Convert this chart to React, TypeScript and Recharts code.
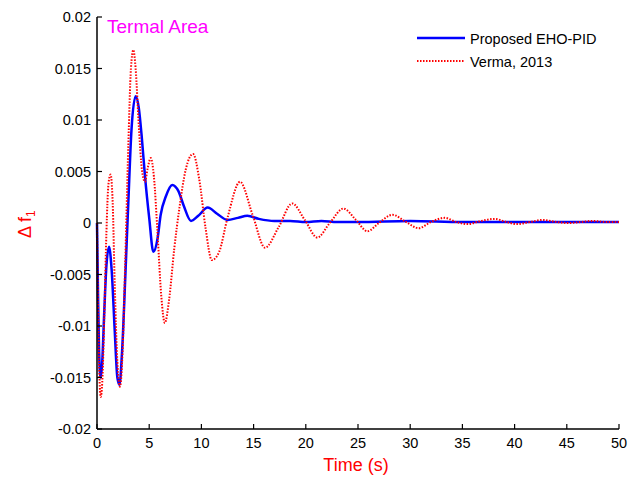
import { Customized, Line, LineChart, XAxis, YAxis } from "recharts";

// time (s), delta f1
const ehoPid: [number, number][] = [
  [0, 0], [0.1, -0.007], [0.2, -0.0125], [0.35, -0.015], [0.5, -0.0135], [0.7, -0.0085],
  [0.9, -0.0042], [1.15, -0.0023], [1.4, -0.0045], [1.7, -0.0105], [1.95, -0.015],
  [2.15, -0.0157], [2.4, -0.0125], [2.7, -0.0055], [3.0, 0.002], [3.3, 0.009],
  [3.7, 0.0123], [4.0, 0.0112], [4.3, 0.0082], [4.6, 0.0045], [5.0, 0.0005],
  [5.4, -0.0028], [5.8, -0.0015], [6.1, 0.0008], [6.6, 0.0026], [7.2, 0.0037],
  [7.8, 0.0031], [8.3, 0.0017], [9.0, 0.0002], [9.7, 0.0007], [10.6, 0.0015],
  [11.5, 0.0009], [12.5, 0.0003], [13.5, 0.0005], [14.4, 0.0007], [15.5, 0.0004],
  [17, 0.0002], [18.5, 0.0002], [20, 0.0001], [21.5, 0.0002], [23, 0.0001],
  [25, 0.0001], [30, 0.0002], [35, 0.0001], [40, 0.0001], [45, 0.0001], [50, 0.0001],
];

const verma2013: [number, number][] = [
  [0, 0], [0.1, -0.008], [0.2, -0.0135], [0.35, -0.0169], [0.5, -0.0155], [0.7, -0.009],
  [0.9, -0.001], [1.1, 0.0038], [1.3, 0.0047], [1.5, 0.002], [1.7, -0.006],
  [1.95, -0.0135], [2.2, -0.0159], [2.45, -0.0125], [2.7, -0.004], [3.0, 0.0075],
  [3.25, 0.015], [3.48, 0.0168], [3.7, 0.015], [4.0, 0.0095], [4.3, 0.0052],
  [4.6, 0.004], [4.85, 0.0053], [5.15, 0.0063], [5.45, 0.0045], [5.8, -0.001],
  [6.15, -0.007], [6.5, -0.0097], [6.9, -0.0075], [7.4, -0.0025], [7.9, 0.0015],
  [8.5, 0.0052], [9.2, 0.0067], [9.8, 0.0042], [10.4, -0.0005], [11.0, -0.0036],
  [11.7, -0.0028], [12.5, 0.0005], [13.7, 0.004], [14.9, 0.0008], [16.1, -0.0024],
  [17.4, -0.0004], [18.7, 0.0019], [19.9, 0.0003], [21.1, -0.0014], [22.3, 0],
  [23.6, 0.0014], [24.8, 0.0003], [25.9, -0.0008], [27.0, 0], [28.3, 0.0008],
  [29.6, 0.0001], [30.8, -0.0005], [32.0, 0.0001], [33.3, 0.0005], [34.4, 0.0001],
  [35.5, -0.0001], [36.8, 0.0002], [38.1, 0.0004], [39.2, 0.0001], [40.2, -0.0001],
  [41.5, 0.0001], [42.7, 0.0003], [44, 0.0001], [45.2, 0], [46.4, 0.0001],
  [47.5, 0.0002], [48.8, 0.0001], [50, 0.0001],
];

const xTicks = [0, 5, 10, 15, 20, 25, 30, 35, 40, 45, 50];
const yTicks = [-0.02, -0.015, -0.01, -0.005, 0, 0.005, 0.01, 0.015, 0.02];
const yTickLabels = ["-0.02", "-0.015", "-0.01", "-0.005", "0", "0.005", "0.01", "0.015", "0.02"];

const font = "'Liberation Sans', Arial, sans-serif";

const toPoints = (rows: [number, number][]) => rows.map(([t, v]) => ({ t, v }));

function LeftTick({ x, y, payload }: any) {
  const i = yTicks.indexOf(payload.value);
  return (
    <g>
      <line x1={x} y1={y} x2={x + 5} y2={y} stroke="#000" strokeWidth={1.2} />
      <text x={x - 6} y={y + 5} textAnchor="end" fontSize={14.5} fontFamily={font} fill="#000">
        {i >= 0 ? yTickLabels[i] : payload.value}
      </text>
    </g>
  );
}

function BottomTick({ x, y, payload }: any) {
  return (
    <g>
      <line x1={x} y1={y} x2={x} y2={y - 5} stroke="#000" strokeWidth={1.2} />
      <text x={x} y={y + 19} textAnchor="middle" fontSize={14.5} fontFamily={font} fill="#000">
        {payload.value}
      </text>
    </g>
  );
}

function Annotations() {
  return (
    <g fontFamily={font}>
      <text x={107} y={33} fontSize={19} fill="#ff00ff">Termal Area</text>
      <line x1={417} y1={38} x2={465} y2={38} stroke="#0000ff" strokeWidth={2.5} />
      <text x={470} y={44} fontSize={14.5} fill="#000">Proposed EHO-PID</text>
      <line x1={417} y1={61} x2={465} y2={61} stroke="#ff0000" strokeWidth={2} strokeDasharray="1.5 1.5" />
      <text x={470} y={67} fontSize={14.5} fill="#000">Verma, 2013</text>
      <text x={356} y={471} textAnchor="middle" fontSize={18} fill="#ff0000">Time (s)</text>
      <text transform="rotate(-90)" x={-238} y={31} fontSize={18} fill="#ff0000">
        Δ f<tspan dy={4} fontSize={12}>1</tspan>
      </text>
    </g>
  );
}

export default function App() {
  return (
    <div style={{ position: "absolute", left: 0, top: 0, width: 640, height: 479, background: "#fff" }}>
      <LineChart width={640} height={479} margin={{ top: 17, right: 21, left: 0, bottom: 0 }}>
        <XAxis
          dataKey="t"
          type="number"
          domain={[0, 50]}
          ticks={xTicks}
          height={50}
          tickSize={0}
          tickMargin={0}
          tickLine={false}
          tick={<BottomTick />}
          axisLine={{ stroke: "#000", strokeWidth: 1.5 }}
          allowDuplicatedCategory={false}
        />
        <YAxis
          type="number"
          domain={[-0.02, 0.02]}
          ticks={yTicks}
          width={97}
          tickSize={0}
          tickMargin={0}
          tickLine={false}
          tick={<LeftTick />}
          axisLine={{ stroke: "#000", strokeWidth: 1.5 }}
        />
        <Line
          data={toPoints(ehoPid)}
          dataKey="v"
          type="monotone"
          stroke="#0000ff"
          strokeWidth={2.5}
          dot={false}
          isAnimationActive={false}
        />
        <Line
          data={toPoints(verma2013)}
          dataKey="v"
          type="monotone"
          stroke="#ff0000"
          strokeWidth={2}
          strokeDasharray="1.5 1.5"
          dot={false}
          isAnimationActive={false}
        />
        <Customized component={Annotations} />
      </LineChart>
    </div>
  );
}
